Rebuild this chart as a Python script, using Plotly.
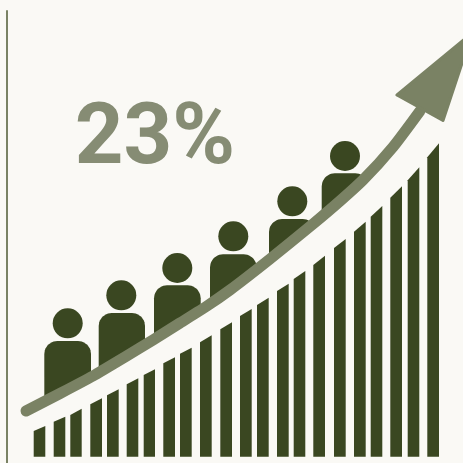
import numpy as np
import plotly.graph_objects as go

BACKGROUND = "#FAF9F5"
DARK = "#3A4721"
ARROW = "#7A8264"
LABEL = "#868C74"

# Growth bars: horizontal extents and the two heights of each slanted top
bar_left = [33.7, 53.7, 70.3, 90.3, 107, 126.7, 143.7, 163.3, 180, 200, 220.3,
            240, 257, 277, 293.7, 313.3, 334, 354, 370.7, 390.3, 407.7, 427.3]
bar_right = [45.3, 65.3, 81.7, 102, 118.7, 138.3, 155, 175, 191.7, 211.7, 232,
             251.7, 268.7, 288.7, 305.3, 325, 345.7, 365.7, 382.3, 402, 419.3, 439]
top_left = [431, 421.7, 415, 404.3, 395.3, 384.3, 375, 363.3, 353.7, 342.3, 329.3,
            316, 305, 291, 279, 265, 248, 231.7, 216.7, 197.7, 180.3, 157.3]
top_right = [426, 416.7, 408.7, 398.3, 389.3, 378.3, 369.3, 357.3, 347.7, 335.3, 322.3,
             309, 297.7, 283.7, 271, 255.7, 239, 221.7, 206, 186.3, 167.3, 143.3]
baseline = 456.7

# Trend line and its arrow head
trend_x = [26, 60, 93, 125, 153, 180, 207, 230, 270, 313, 340, 363, 393, 420]
trend_y = [411, 393.5, 376, 357, 340, 323, 306, 290, 259, 224, 201, 180, 147, 111]
head_x = [397, 472, 443]
head_y = [95, 33, 120.5]

# People standing on the trend line
head_cx = [67.7, 121.3, 177.3, 233.3, 292.3, 345]
head_cy = [323.3, 295.3, 268, 236.3, 201.3, 156]
body_left = [44.3, 98.7, 154, 210, 269, 321.7]
body_right = [91, 145, 200.7, 256.7, 315.7, 368.3]
body_top = [341, 313, 285.3, 254.3, 219, 173.3]
body_radius = 13

label_text = "23%"
rule_x = [7, 7]
rule_y = [11, 463]


def body_outline(left, right, top):
    """Round-shouldered torso whose lower edge follows the trend line."""
    angles = np.linspace(0, np.pi / 2, 12)
    left_arc_x = left + body_radius - body_radius * np.cos(angles)
    left_arc_y = top + body_radius - body_radius * np.sin(angles)
    right_arc_x = right - body_radius + body_radius * np.sin(angles)
    right_arc_y = top + body_radius - body_radius * np.cos(angles)
    bottom_x = np.linspace(right, left, 30)
    xs = np.concatenate([left_arc_x, right_arc_x, bottom_x])
    ys = np.concatenate([left_arc_y, right_arc_y, np.full(30, 1000.0)])
    ys = np.minimum(ys, np.interp(xs, trend_x, trend_y))
    return xs, ys


fig = go.Figure()

# Vertical rule on the left
fig.add_trace(go.Scatter(x=rule_x, y=rule_y, mode="lines",
                         line=dict(color=ARROW, width=2)))

# Torsos
for left, right, top in zip(body_left, body_right, body_top):
    xs, ys = body_outline(left, right, top)
    fig.add_trace(go.Scatter(x=xs, y=ys, mode="lines", fill="toself",
                             fillcolor=DARK, line=dict(width=0)))

# Heads, sized in pixels on a pixel-scaled axis
fig.add_trace(go.Scatter(x=head_cx, y=head_cy, mode="markers",
                         marker=dict(size=30, color=DARK, line=dict(width=0))))

# Bars with slanted tops
for x0, x1, y0, y1 in zip(bar_left, bar_right, top_left, top_right):
    fig.add_trace(go.Scatter(x=[x0, x0, x1, x1, x0],
                             y=[baseline, y0, y1, baseline, baseline],
                             mode="lines", fill="toself",
                             fillcolor=DARK, line=dict(width=0)))

# Trend line and arrow head
fig.add_trace(go.Scatter(x=trend_x, y=trend_y, mode="lines",
                         line=dict(color=ARROW, width=11, shape="spline",
                                   smoothing=0.6, simplify=False)))
fig.add_trace(go.Scatter(x=head_x + head_x[:1], y=head_y + head_y[:1], mode="lines",
                         fill="toself", fillcolor=ARROW,
                         line=dict(color=ARROW, width=3)))

# Headline figure
fig.add_trace(go.Scatter(x=[155], y=[142], mode="text", text=[label_text],
                         textposition="middle center",
                         textfont=dict(family="Roboto", size=85,
                                       color=LABEL, weight="bold")))

fig.update_layout(
    width=463, height=463, autosize=False,
    margin=dict(l=0, r=0, t=0, b=0),
    paper_bgcolor=BACKGROUND, plot_bgcolor=BACKGROUND,
    showlegend=False,
    xaxis=dict(range=[0, 463], visible=False, fixedrange=True),
    yaxis=dict(range=[463, 0], visible=False, fixedrange=True),
)

# Round the ends of the trend curve and the corners of the arrow head
post_script = """
var gd = document.querySelector('.js-plotly-plot');
gd.querySelectorAll('.scatterlayer .js-line').forEach(function (p) {
  p.style.strokeLinecap = 'round';
  p.style.strokeLinejoin = 'round';
});
"""
fig.write_html("out.html", post_script=post_script, config=dict(displayModeBar=False))
